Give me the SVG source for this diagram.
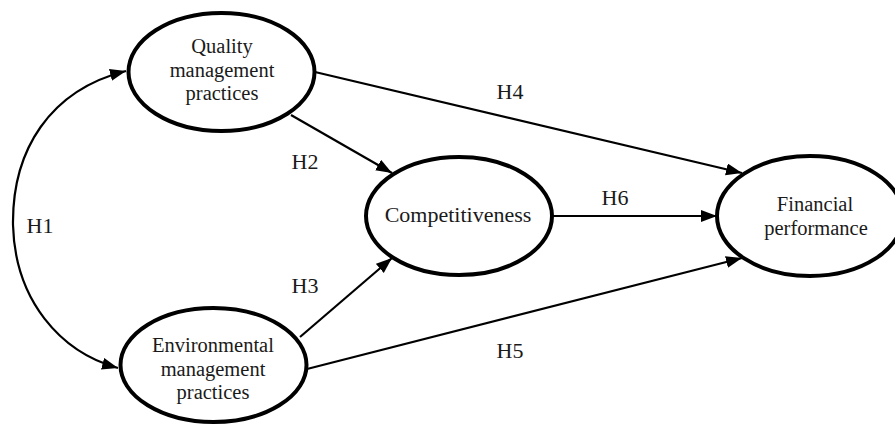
<svg xmlns="http://www.w3.org/2000/svg" width="895" height="424" viewBox="0 0 895 424">
<style>
.node{fill:#fff;stroke:#000;stroke-width:4}
.edge{fill:none;stroke:#000;stroke-width:2.2}
text{font-family:"Liberation Serif","DejaVu Serif",serif;font-size:22px;fill:#1a1a1a;text-anchor:middle}
.nt{font-size:20.5px}
</style>
<defs>
<marker id="arr" markerUnits="userSpaceOnUse" markerWidth="18" markerHeight="14" refX="16" refY="6" orient="auto-start-reverse">
<path d="M0,0 L16,6 L0,12 Z" fill="#000"/>
</marker>
</defs>
<rect width="895" height="424" fill="#fff"/>
<g id="connectors">
<path class="edge" d="M126,71 C50,90 12,150 13,225 C15,300 60,352 118,368" marker-start="url(#arr)" marker-end="url(#arr)"/>
<line class="edge" x1="291" y1="115" x2="392" y2="173" marker-end="url(#arr)"/>
<line class="edge" x1="300" y1="337" x2="392" y2="258" marker-end="url(#arr)"/>
<line class="edge" x1="315" y1="72" x2="742" y2="173" marker-end="url(#arr)"/>
<line class="edge" x1="553" y1="216" x2="717" y2="216" marker-end="url(#arr)"/>
<line class="edge" x1="307" y1="369" x2="742" y2="258" marker-end="url(#arr)"/>
<text x="40" y="233">H1</text>
<text x="305" y="169">H2</text>
<text x="305" y="293">H3</text>
<text x="510" y="99">H4</text>
<text x="510" y="358">H5</text>
<text x="615" y="205">H6</text>
</g>
<g id="quality">
<ellipse class="node" cx="221.5" cy="72" rx="93" ry="59"/>
<text class="nt" x="222" y="53">Quality</text>
<text class="nt" x="222" y="76.5">management</text>
<text class="nt" x="222" y="100">practices</text>
</g>
<g id="environmental">
<ellipse class="node" cx="213.5" cy="365" rx="93" ry="57"/>
<text class="nt" x="213" y="352">Environmental</text>
<text class="nt" x="213" y="375.5">management</text>
<text class="nt" x="213" y="399">practices</text>
</g>
<g id="competitiveness">
<ellipse class="node" cx="459" cy="216" rx="93" ry="59"/>
<text class="nt" x="458" y="222" style="font-size:22px">Competitiveness</text>
</g>
<g id="financial">
<ellipse class="node" cx="810" cy="216" rx="93" ry="60"/>
<text class="nt" x="815" y="211">Financial</text>
<text class="nt" x="816" y="234.5">performance</text>
</g>
</svg>
